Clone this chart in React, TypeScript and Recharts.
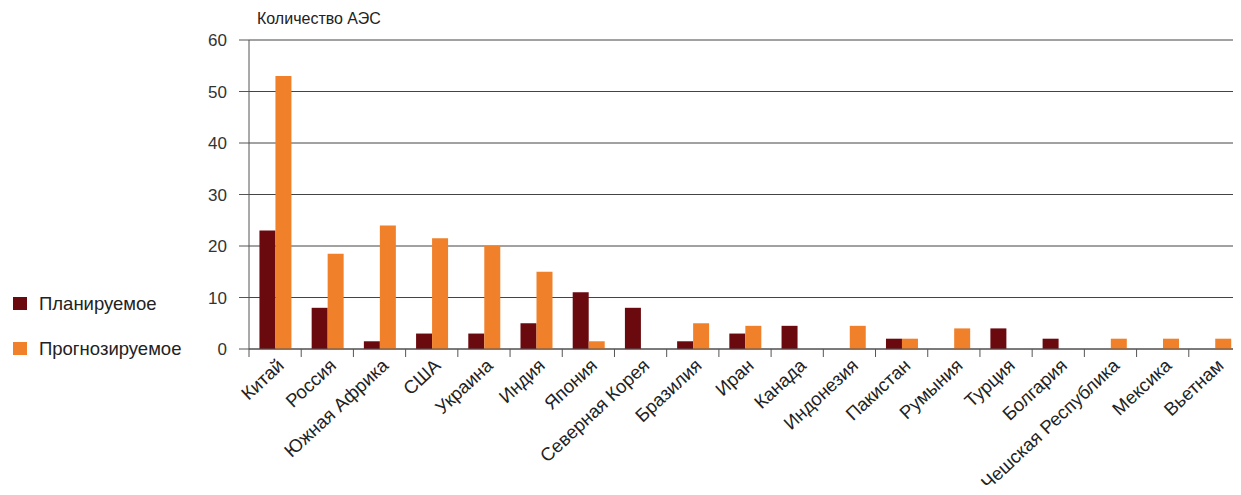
import React from "react"
import { BarChart, Bar, XAxis, YAxis, CartesianGrid } from "recharts"

const countries = [
  "Китай", "Россия", "Южная Африка", "США", "Украина", "Индия", "Япония",
  "Северная Корея", "Бразилия", "Иран", "Канада", "Индонезия", "Пакистан",
  "Румыния", "Турция", "Болгария", "Чешская Республика", "Мексика", "Вьетнам",
]
const planned = [23, 8, 1.5, 3, 3, 5, 11, 8, 1.5, 3, 4.5, 0, 2, 0, 4, 2, 0, 0, 0]
const forecast = [53, 18.5, 24, 21.5, 20, 15, 1.5, 0, 5, 4.5, 0, 4.5, 2, 4, 0, 0, 2, 2, 2]
const yTicks = [0, 10, 20, 30, 40, 50, 60]

const data = countries.map((name, i) => ({ name, planned: planned[i], forecast: forecast[i] }))

const PLANNED = "#6a0a0f"
const FORECAST = "#f0802a"
const FONT = "'Liberation Sans', Arial, sans-serif"

const legendItems = [
  { label: "Планируемое", color: PLANNED },
  { label: "Прогнозируемое", color: FORECAST },
]

function CountryTick(props: any) {
  const { x, y, payload } = props
  const half = payload.offset || 0
  return (
    <g>
      <line x1={x - half} x2={x - half} y1={y} y2={y + 8} stroke="#555" />
      <text
        transform={`translate(${x + 10},${y + 18}) rotate(-43)`}
        textAnchor="end"
        fontSize={18.5}
        fill="#222"
        fontFamily={FONT}
      >
        {payload.value}
      </text>
    </g>
  )
}

export default function App() {
  return (
    <div style={{ position: "relative", width: 1241, height: 495, margin: -8, background: "#fff" }}>
      <div style={{ position: "absolute", left: 257, top: 10, fontFamily: FONT, fontSize: 16, color: "#222" }}>
        Количество АЭС
      </div>
      <div style={{ position: "absolute", left: 13, top: 281, fontFamily: FONT, fontSize: 18.5, color: "#222" }}>
        {legendItems.map((it) => (
          <div key={it.label} style={{ display: "flex", alignItems: "center", height: 45 }}>
            <span style={{ width: 14, height: 13, background: it.color, display: "inline-block", marginRight: 12 }} />
            {it.label}
          </div>
        ))}
      </div>
      <BarChart
        width={1241}
        height={495}
        data={data}
        margin={{ top: 40, right: 0, left: 189, bottom: 0 }}
        barCategoryGap="20%"
        barGap={0}
      >
        <CartesianGrid vertical={false} stroke="#444" strokeWidth={1} />
        <XAxis
          dataKey="name"
          interval={0}
          height={146}
          tickLine={false}
          tickSize={0}
          tickMargin={0}
          axisLine={{ stroke: "#555" }}
          tick={<CountryTick />}
        />
        <YAxis
          width={60}
          domain={[0, 60]}
          ticks={yTicks}
          tickSize={10}
          tickMargin={12}
          axisLine={{ stroke: "#555" }}
          tickLine={{ stroke: "#555" }}
          tick={{ fontSize: 17, fill: "#333", fontFamily: FONT }}
        />
        <Bar dataKey="planned" name="Планируемое" fill={PLANNED} isAnimationActive={false} />
        <Bar dataKey="forecast" name="Прогнозируемое" fill={FORECAST} isAnimationActive={false} />
      </BarChart>
    </div>
  )
}
